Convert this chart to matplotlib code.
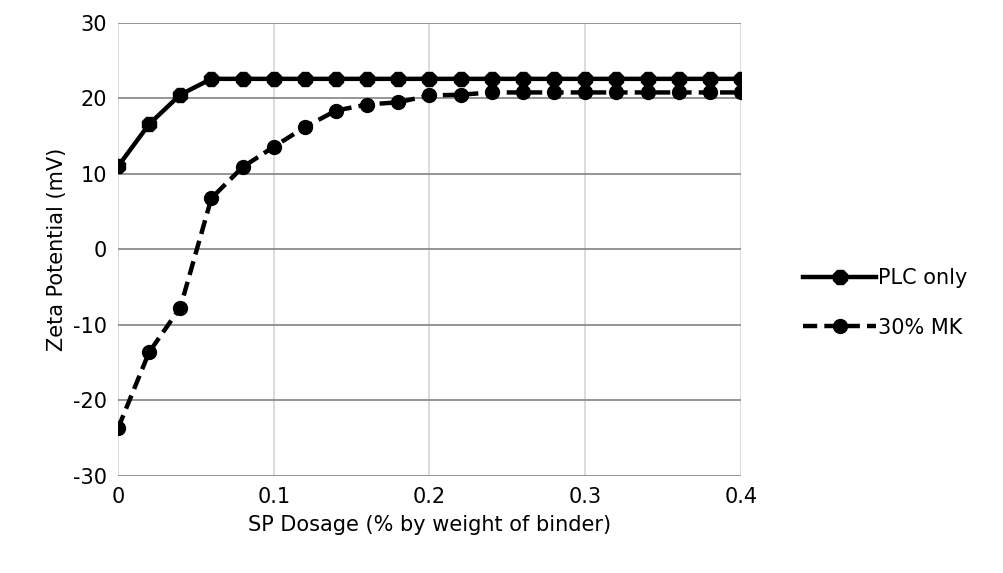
import matplotlib
matplotlib.use('Agg')
import matplotlib.pyplot as plt
import numpy as np

# SP dosage (% by weight of binder)
sp_dosage = [0.0, 0.02, 0.04, 0.06, 0.08, 0.10, 0.12, 0.14, 0.16, 0.18, 0.20,
             0.22, 0.24, 0.26, 0.28, 0.30, 0.32, 0.34, 0.36, 0.38, 0.40]

# Zeta potential (mV)
plc_only = [11.0, 16.6, 20.5, 22.6, 22.6, 22.6, 22.6, 22.6, 22.6, 22.6, 22.6,
            22.6, 22.6, 22.6, 22.6, 22.6, 22.6, 22.6, 22.6, 22.6, 22.6]
mk_30 = [-23.7, -13.6, -7.7, 6.8, 10.9, 13.6, 16.2, 18.4, 19.2, 19.5, 20.4,
         20.5, 20.8, 20.8, 20.8, 20.8, 20.8, 20.8, 20.8, 20.8, 20.8]

x_ticks = [0, 0.1, 0.2, 0.3, 0.4]
x_tick_labels = ['0', '0.1', '0.2', '0.3', '0.4']
y_ticks = [-30, -20, -10, 0, 10, 20, 30]
y_tick_labels = ['-30', '-20', '-10', '0', '10', '20', '30']

plt.rcParams['font.family'] = ['DejaVu Sans']
plt.rcParams['axes.unicode_minus'] = False

fig = plt.figure(figsize=(10.04, 5.73), dpi=100, facecolor='white')
ax = fig.add_axes([0.1175, 0.1693, 0.6205, 0.7906])

ax.plot(sp_dosage, plc_only, color='black', linewidth=3.2, marker='8',
        markersize=10.5, label='PLC only', zorder=4)
ax.plot(sp_dosage, mk_30, color='black', linewidth=3.2, marker='o',
        markersize=10, linestyle=(0, (3.2, 1.6)), label='30% MK', zorder=3)

ax.set_xlim(0, 0.4)
ax.set_ylim(-30, 30)
ax.set_xticks(x_ticks)
ax.set_xticklabels(x_tick_labels)
ax.set_yticks(y_ticks)
ax.set_yticklabels(y_tick_labels)

for y in y_ticks:
    ax.axhline(y, color='#8c8c8c', linewidth=1.3, zorder=1)
for x in x_ticks:
    ax.axvline(x, color='#d9d9d9', linewidth=1.3, zorder=0)

for s in ax.spines.values():
    s.set_visible(False)
ax.tick_params(axis='both', length=0, labelsize=15, pad=8)

ax.set_xlabel('SP Dosage (% by weight of binder)', fontsize=15, labelpad=6)
ax.set_ylabel('Zeta Potential (mV)', fontsize=15, labelpad=4)

ax.legend(loc='center left', bbox_to_anchor=(1.1, 0.382), frameon=False,
          fontsize=15, handlelength=3.5, handletextpad=0.1, labelspacing=1.4,
          borderpad=0, borderaxespad=0)

fig.savefig('out.png', dpi=100, facecolor='white')
